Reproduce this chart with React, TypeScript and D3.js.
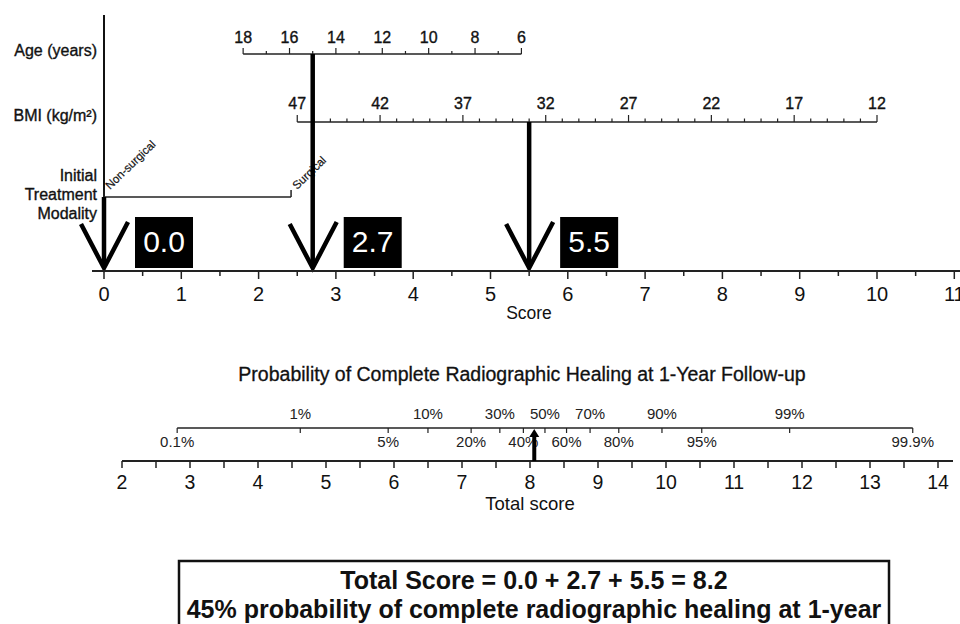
import { useEffect, useRef } from "react";
import * as d3 from "d3";

// points axis and predictors
const scoreTicks = d3.range(0, 12);
const ageTicks = [18, 16, 14, 12, 10, 8, 6];
const ageDomain = [18, 6];
const ageScoreRange = [1.8, 5.4];
const bmiTicks = [47, 42, 37, 32, 27, 22, 17, 12];
const bmiDomain = [47, 12];
const bmiScoreRange = [2.5, 10];
const treatmentLabels = ["Non-surgical", "Surgical"];
const treatmentScores = [0, 2.42];

// the worked example
const chosenPoints = [0.0, 2.7, 5.5];
const chosenLabels = ["0.0", "2.7", "5.5"];
const resultProb = 0.45;

// total score / probability axes
const totalTicks = d3.range(2, 15);
const probTop = [0.01, 0.1, 0.3, 0.5, 0.7, 0.9, 0.99];
const probBottom = [0.001, 0.05, 0.2, 0.4, 0.6, 0.8, 0.95, 0.999];
const probMid = 8.22; // total score at 50%
const probSlope = 1.277; // logit per total-score point

const FONT = "'Liberation Sans', Arial, Helvetica, sans-serif";

export default function App() {
  const svgRef = useRef<SVGSVGElement>(null);

  useEffect(() => {
    if (!svgRef.current) return;
    const svg = d3.select(svgRef.current);
    svg.selectAll("*").remove();

    const x = d3.scaleLinear().domain([0, 10]).range([104, 877]);
    const baseY = 271;

    const ageX = d3.scaleLinear().domain(ageDomain).range(ageScoreRange.map(x));
    const bmiX = d3.scaleLinear().domain(bmiDomain).range(bmiScoreRange.map(x));

    const g = svg.append("g").attr("font-family", FONT).attr("fill", "#111");

    // slightly heavier text, like the scanned figure
    const heavy = (sel: any, w = 0.35) =>
      sel.attr("stroke", "#111").attr("stroke-width", w).attr("paint-order", "stroke");

    // left labels
    const leftLabels = [
      { t: "Age (years)", y: 56 },
      { t: "BMI (kg/m²)", y: 121 },
      { t: "Initial", y: 181 },
      { t: "Treatment", y: 200 },
      { t: "Modality", y: 219 },
    ];
    heavy(
      g.selectAll("text.left")
        .data(leftLabels)
        .join("text")
        .attr("x", 97)
        .attr("y", (d) => d.y)
        .attr("text-anchor", "end")
        .attr("font-size", 16)
        .text((d) => d.t)
    );

    // vertical axis line at score 0
    g.append("line")
      .attr("x1", x(0)).attr("x2", x(0))
      .attr("y1", 15).attr("y2", baseY)
      .attr("stroke", "#111").attr("stroke-width", 2);

    // Age axis
    const ageY = 54;
    g.append("line")
      .attr("x1", ageX(18)).attr("x2", ageX(6))
      .attr("y1", ageY).attr("y2", ageY)
      .attr("stroke", "#222").attr("stroke-width", 1.5);
    g.selectAll("line.agetick")
      .data(d3.range(6, 19))
      .join("line")
      .attr("x1", (d) => ageX(d)).attr("x2", (d) => ageX(d))
      .attr("y1", ageY)
      .attr("y2", (d) => ageY - (d % 2 === 0 ? 6 : 3))
      .attr("stroke", "#222").attr("stroke-width", 1.2);
    heavy(
      g.selectAll("text.agelab")
        .data(ageTicks)
        .join("text")
        .attr("x", (d) => ageX(d))
        .attr("y", 43)
        .attr("text-anchor", "middle")
        .attr("font-size", 16)
        .text((d) => d)
    );

    // BMI axis
    const bmiY = 122;
    g.append("line")
      .attr("x1", bmiX(47)).attr("x2", bmiX(12))
      .attr("y1", bmiY).attr("y2", bmiY)
      .attr("stroke", "#222").attr("stroke-width", 1.5);
    g.selectAll("line.bmitick")
      .data(d3.range(12, 48))
      .join("line")
      .attr("x1", (d) => bmiX(d)).attr("x2", (d) => bmiX(d))
      .attr("y1", bmiY)
      .attr("y2", (d) => bmiY - ((47 - d) % 5 === 0 ? 7 : 3.5))
      .attr("stroke", "#222").attr("stroke-width", 1.2);
    heavy(
      g.selectAll("text.bmilab")
        .data(bmiTicks)
        .join("text")
        .attr("x", (d) => bmiX(d))
        .attr("y", 109)
        .attr("text-anchor", "middle")
        .attr("font-size", 16)
        .text((d) => d)
    );

    // Treatment axis
    const trY = 197;
    g.append("line")
      .attr("x1", x(treatmentScores[0])).attr("x2", x(treatmentScores[1]))
      .attr("y1", trY).attr("y2", trY)
      .attr("stroke", "#222").attr("stroke-width", 1.5);
    g.selectAll("line.trtick")
      .data(treatmentScores)
      .join("line")
      .attr("x1", (d) => x(d)).attr("x2", (d) => x(d))
      .attr("y1", trY).attr("y2", trY - 7)
      .attr("stroke", "#222").attr("stroke-width", 1.5);
    heavy(
      g.selectAll("text.trlab")
        .data(treatmentLabels)
        .join("text")
        .attr("transform", (d, i) => `translate(${x(treatmentScores[i]) + 6},${trY - 7}) rotate(-44)`)
        .attr("font-size", 11.5)
        .text((d) => d),
      0.2
    );

    // stems from predictors down to the score axis
    const stemTops = [trY, ageY, bmiY];
    chosenPoints.forEach((p, i) => {
      const px = x(p);
      g.append("line")
        .attr("x1", px).attr("x2", px)
        .attr("y1", stemTops[i]).attr("y2", baseY - 4)
        .attr("stroke", "#000").attr("stroke-width", 4.5);
      g.append("path")
        .attr("d", `M${px - 23},${224} L${px},${baseY - 3} L${px + 24},${222}`)
        .attr("fill", "none")
        .attr("stroke", "#000")
        .attr("stroke-width", 4.5);
      g.append("rect")
        .attr("x", px + 31).attr("y", 217)
        .attr("width", 58).attr("height", 51)
        .attr("fill", "#000");
      g.append("text")
        .attr("x", px + 60).attr("y", 252)
        .attr("text-anchor", "middle")
        .attr("font-size", 30)
        .attr("fill", "#fff")
        .text(chosenLabels[i]);
    });

    // score axis
    g.append("line")
      .attr("x1", 92).attr("x2", 960)
      .attr("y1", baseY).attr("y2", baseY)
      .attr("stroke", "#222").attr("stroke-width", 2);
    g.selectAll("line.stick")
      .data(d3.range(0, 11.5, 0.5))
      .join("line")
      .attr("x1", (d) => x(d)).attr("x2", (d) => x(d))
      .attr("y1", baseY)
      .attr("y2", (d) => baseY + (Number.isInteger(d) ? 8 : 5))
      .attr("stroke", "#222").attr("stroke-width", 1.5);
    g.selectAll("text.slab")
      .data(scoreTicks)
      .join("text")
      .attr("x", (d) => x(d))
      .attr("y", 301)
      .attr("text-anchor", "middle")
      .attr("font-size", 20)
      .text((d) => d);
    g.append("text")
      .attr("x", 529).attr("y", 319)
      .attr("text-anchor", "middle")
      .attr("font-size", 17.5)
      .text("Score");

    // probability section
    heavy(
      g.append("text")
        .attr("x", 522).attr("y", 381)
        .attr("text-anchor", "middle")
        .attr("font-size", 19.5)
        .text("Probability of Complete Radiographic Healing at 1-Year Follow-up"),
      0.3
    );

    const tx = d3.scaleLinear().domain([2, 14]).range([122, 938]);
    const logit = (p: number) => Math.log(p / (1 - p));
    const probX = (p: number) => tx(probMid + logit(p) / probSlope);

    const pY = 428;
    g.append("line")
      .attr("x1", probX(0.001)).attr("x2", probX(0.999))
      .attr("y1", pY).attr("y2", pY)
      .attr("stroke", "#222").attr("stroke-width", 1.5);
    g.selectAll("line.ptick")
      .data([...probTop, ...probBottom])
      .join("line")
      .attr("x1", (d) => probX(d)).attr("x2", (d) => probX(d))
      .attr("y1", pY).attr("y2", pY + 5)
      .attr("stroke", "#222").attr("stroke-width", 1.2);
    g.selectAll("text.ptop")
      .data(probTop)
      .join("text")
      .attr("x", (d) => probX(d))
      .attr("y", 419)
      .attr("text-anchor", "middle")
      .attr("font-size", 15)
      .attr("fill", "#222")
      .text((d) => `${+(d * 100).toFixed(1)}%`);
    g.selectAll("text.pbot")
      .data(probBottom)
      .join("text")
      .attr("x", (d) => probX(d))
      .attr("y", 447)
      .attr("text-anchor", "middle")
      .attr("font-size", 15)
      .attr("fill", "#222")
      .text((d) => `${+(d * 100).toFixed(1)}%`);

    // total score axis
    const tY = 461;
    g.append("line")
      .attr("x1", tx(2)).attr("x2", 953)
      .attr("y1", tY).attr("y2", tY)
      .attr("stroke", "#222").attr("stroke-width", 2);
    g.selectAll("line.ttick")
      .data(d3.range(2, 14.5, 0.5))
      .join("line")
      .attr("x1", (d) => tx(d)).attr("x2", (d) => tx(d))
      .attr("y1", tY).attr("y2", tY + 7)
      .attr("stroke", "#222").attr("stroke-width", 1.5);
    g.selectAll("text.tlab")
      .data(totalTicks)
      .join("text")
      .attr("x", (d) => tx(d))
      .attr("y", 489)
      .attr("text-anchor", "middle")
      .attr("font-size", 19.5)
      .text((d) => d);
    g.append("text")
      .attr("x", 530).attr("y", 510)
      .attr("text-anchor", "middle")
      .attr("font-size", 18.5)
      .text("Total score");

    // pointer from total score up to probability
    const ax = probX(resultProb);
    g.append("line")
      .attr("x1", ax).attr("x2", ax)
      .attr("y1", tY).attr("y2", pY + 8)
      .attr("stroke", "#000").attr("stroke-width", 4);
    g.append("path")
      .attr("d", `M${ax - 5},${pY + 9} L${ax},${pY + 1} L${ax + 5},${pY + 9} Z`)
      .attr("fill", "#000");

    // result box
    g.append("rect")
      .attr("x", 179).attr("y", 561)
      .attr("width", 710).attr("height", 80)
      .attr("fill", "#fff")
      .attr("stroke", "#111").attr("stroke-width", 2.5);
    const total = d3.sum(chosenPoints);
    g.append("text")
      .attr("x", 534).attr("y", 589)
      .attr("text-anchor", "middle")
      .attr("font-size", 25)
      .attr("font-weight", "bold")
      .text(`Total Score = ${chosenLabels.join(" + ")} = ${total.toFixed(1)}`);
    g.append("text")
      .attr("x", 534).attr("y", 618)
      .attr("text-anchor", "middle")
      .attr("font-size", 25)
      .attr("font-weight", "bold")
      .text(`${Math.round(resultProb * 100)}% probability of complete radiographic healing at 1-year`);
  }, []);

  return (
    <svg
      ref={svgRef}
      width={960}
      height={624}
      style={{ position: "absolute", left: 0, top: 0, background: "#fff" }}
    />
  );
}
